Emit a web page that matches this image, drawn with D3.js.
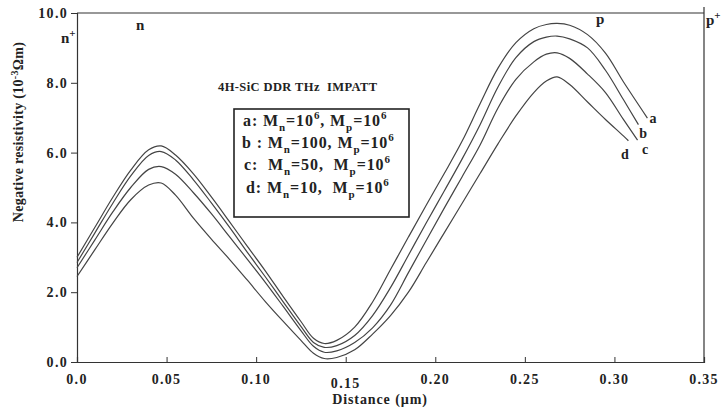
<!DOCTYPE html>
<html>
<head>
<meta charset="utf-8">
<script src="https://cdn.jsdelivr.net/npm/d3@7"></script>
<style>
  html, body { margin: 0; padding: 0; background: #fff; }
  svg { display: block; }
  text { font-family: "Liberation Serif", "Times New Roman", serif; font-weight: bold; fill: #222; }
</style>
</head>
<body>
<svg id="chart" width="723" height="410"></svg>
<script>
// ---- data ----
const distance = [0, 0.01, 0.02, 0.03, 0.04, 0.047, 0.055, 0.065, 0.075, 0.085, 0.095, 0.105, 0.115, 0.125, 0.132, 0.138, 0.145, 0.155, 0.165, 0.175, 0.185, 0.195, 0.205, 0.215, 0.225, 0.235, 0.245, 0.255, 0.262, 0.268, 0.275, 0.285, 0.295, 0.305];
const seriesA = [3.0, 3.86, 4.72, 5.5, 6.08, 6.19, 5.93, 5.39, 4.73, 4.03, 3.32, 2.62, 1.88, 1.16, 0.68, 0.53, 0.62, 1.0, 1.72, 2.65, 3.58, 4.5, 5.4, 6.33, 7.4, 8.42, 9.15, 9.55, 9.67, 9.70, 9.65, 9.38, 8.85, 8.03];
const seriesB = [2.85, 3.7, 4.55, 5.33, 5.92, 6.03, 5.79, 5.22, 4.56, 3.87, 3.15, 2.45, 1.73, 1.02, 0.56, 0.42, 0.47, 0.76, 1.33, 2.13, 3.06, 3.99, 4.9, 5.82, 6.8, 7.88, 8.72, 9.18, 9.31, 9.34, 9.26, 9.0, 8.36, 7.52];
const seriesC = [2.7, 3.5, 4.3, 5.0, 5.52, 5.6, 5.38, 4.85, 4.25, 3.6, 2.95, 2.29, 1.6, 0.9, 0.45, 0.28, 0.32, 0.56, 0.98, 1.63, 2.56, 3.49, 4.41, 5.31, 6.22, 7.28, 8.1, 8.6, 8.82, 8.86, 8.7, 8.25, 7.72, 6.95];
const seriesD = [2.45, 3.22, 3.98, 4.65, 5.07, 5.13, 4.78, 4.12, 3.52, 2.95, 2.35, 1.74, 1.17, 0.62, 0.25, 0.1, 0.13, 0.35, 0.8, 1.33, 2.0, 2.85, 3.7, 4.55, 5.4, 6.25, 7.05, 7.72, 8.05, 8.17, 7.95, 7.45, 6.95, 6.48];
const seriesNames = ["a", "b", "c", "d"];
const endDistance = [0.3184, 0.3134, 0.3129, 0.3078];
const endValue = [6.99, 6.8, 6.36, 6.34];
const labelDistance = [0.3216, 0.3160, 0.3171, 0.3059];
const labelValue = [7.0, 6.57, 6.09, 5.97];
const xTicks = [0, 0.05, 0.10, 0.15, 0.20, 0.25, 0.30, 0.35];
const xTickLabels = ["0.0", "0.05", "0.10", "0.15", "0.20", "0.25", "0.30", "0.35"];
const yTicks = [0, 2, 4, 6, 8, 10];
const yTickLabels = ["0.0", "2.0", "4.0", "6.0", "8.0", "10.0"];
const legendMn = ["10^6", "100", "50", "10"];
const title = "4H-SiC DDR THz  IMPATT";

// ---- layout ----
const svg = d3.select("#chart");
const x = d3.scaleLinear().domain([0, 0.35]).range([77, 704]);
const y = d3.scaleLinear().domain([0, 10]).range([362, 13]);
const axisColor = "#333";

// frame lines: top and right
svg.append("line").attr("x1", x(0)).attr("x2", x(0.35)).attr("y1", y(10)).attr("y2", y(10))
  .attr("stroke", axisColor).attr("stroke-width", 1.2);
svg.append("line").attr("x1", x(0.35)).attr("x2", x(0.35)).attr("y1", y(10) - 6).attr("y2", y(0))
  .attr("stroke", axisColor).attr("stroke-width", 1.2);

// x axis
const xAxis = d3.axisBottom(x).tickValues(xTicks).tickSize(-5).tickFormat("");
const gx = svg.append("g").attr("transform", `translate(0,${y(0)})`).call(xAxis);
gx.select(".domain").attr("stroke", axisColor).attr("stroke-width", 1.2);
gx.selectAll(".tick line").attr("stroke", axisColor);
svg.selectAll(".xlab").data(xTicks).enter().append("text")
  .attr("x", d => x(d)).attr("y", (d, i) => i === 3 ? 388 : 384)
  .attr("text-anchor", "middle").style("font-size", "14px").style("letter-spacing", "1.3px")
  .text((d, i) => xTickLabels[i]);

// y axis
const yAxis = d3.axisLeft(y).tickValues(yTicks).tickSize(6).tickFormat("");
const gy = svg.append("g").attr("transform", `translate(${x(0)},0)`).call(yAxis);
gy.select(".domain").attr("stroke", axisColor).attr("stroke-width", 1.2);
gy.selectAll(".tick line").attr("stroke", axisColor);
svg.selectAll(".ylab").data(yTicks).enter().append("text")
  .attr("x", 68).attr("y", d => y(d) + 5)
  .attr("text-anchor", "end").style("font-size", "14px").style("letter-spacing", "1.3px")
  .text((d, i) => yTickLabels[i]);

// axis titles
svg.append("text").attr("x", 380).attr("y", 404).attr("text-anchor", "middle")
  .style("font-size", "14px").style("letter-spacing", "0.9px").text("Distance (\u00b5m)");
const yt = svg.append("text").attr("transform", "translate(23,132) rotate(-90)")
  .attr("text-anchor", "middle").style("font-size", "14px").style("letter-spacing", "0.3px");
yt.append("tspan").text("Negative resistivity (10");
yt.append("tspan").attr("dy", -5).style("font-size", "10px").text("-3");
yt.append("tspan").attr("dy", 5).text("\u03a9m)");

// curves
const allSeries = [seriesA, seriesB, seriesC, seriesD];
const line = d3.line().x(p => x(p[0])).y(p => y(p[1])).curve(d3.curveCatmullRom.alpha(0.5));
allSeries.forEach((s, i) => {
  const pts = distance.map((dv, j) => [dv, s[j]]);
  pts.push([endDistance[i], endValue[i]]);
  svg.append("path").attr("d", line(pts)).attr("fill", "none")
    .attr("stroke", "#444").attr("stroke-width", 1.2);
});

// curve labels
svg.selectAll(".clab").data(seriesNames).enter().append("text")
  .attr("x", (d, i) => x(labelDistance[i])).attr("y", (d, i) => y(labelValue[i]) + 5)
  .attr("text-anchor", "middle").style("font-size", "14px").text(d => d);

// region labels
function sup(t, base, s) {
  t.append("tspan").text(base);
  t.append("tspan").attr("dy", -6).style("font-size", "11px").text(s);
}
svg.append("text").attr("x", x(0.0352)).attr("y", 30).attr("text-anchor", "middle")
  .style("font-size", "15px").text("n");
sup(svg.append("text").attr("x", 61).attr("y", 43).style("font-size", "15px"), "n", "+");
svg.append("text").attr("x", x(0.292)).attr("y", 24).attr("text-anchor", "middle")
  .style("font-size", "15px").text("p");
sup(svg.append("text").attr("x", 706).attr("y", 25).style("font-size", "15px"), "p", "+");

// title
svg.append("text").attr("x", 218).attr("y", 91).style("font-size", "12.5px").style("letter-spacing", "0.4px")
  .style("white-space", "pre").attr("xml:space", "preserve").text(title);

// legend box
svg.append("rect").attr("x", 234).attr("y", 109).attr("width", 175).attr("height", 108)
  .attr("fill", "#fff").attr("stroke", "#222").attr("stroke-width", 1.6);

const legendPrefix = ["a: M", "b : M", "c:  M", "d: M"];
const legendMid = [", M", ", M", ",  M", ",  M"];
const legendY = [126, 148, 170, 193];
const legendX = [243, 242, 244, 246];
legendMn.forEach((mn, i) => {
  const t = svg.append("text").attr("x", legendX[i]).attr("y", legendY[i])
    .style("font-size", "16px").style("letter-spacing", "0.9px")
    .style("white-space", "pre").attr("xml:space", "preserve");
  t.append("tspan").text(legendPrefix[i]);
  t.append("tspan").attr("dy", 5).style("font-size", "11px").text("n");
  if (mn === "10^6") {
    t.append("tspan").attr("dy", -5).text("=10");
    t.append("tspan").attr("dy", -7).style("font-size", "11px").text("6");
    t.append("tspan").attr("dy", 7).text(legendMid[i]);
  } else {
    t.append("tspan").attr("dy", -5).text("=" + mn + legendMid[i]);
  }
  t.append("tspan").attr("dy", 5).style("font-size", "11px").text("p");
  t.append("tspan").attr("dy", -5).text("=10");
  t.append("tspan").attr("dy", -7).style("font-size", "11px").text("6");
});
</script>
</body>
</html>
